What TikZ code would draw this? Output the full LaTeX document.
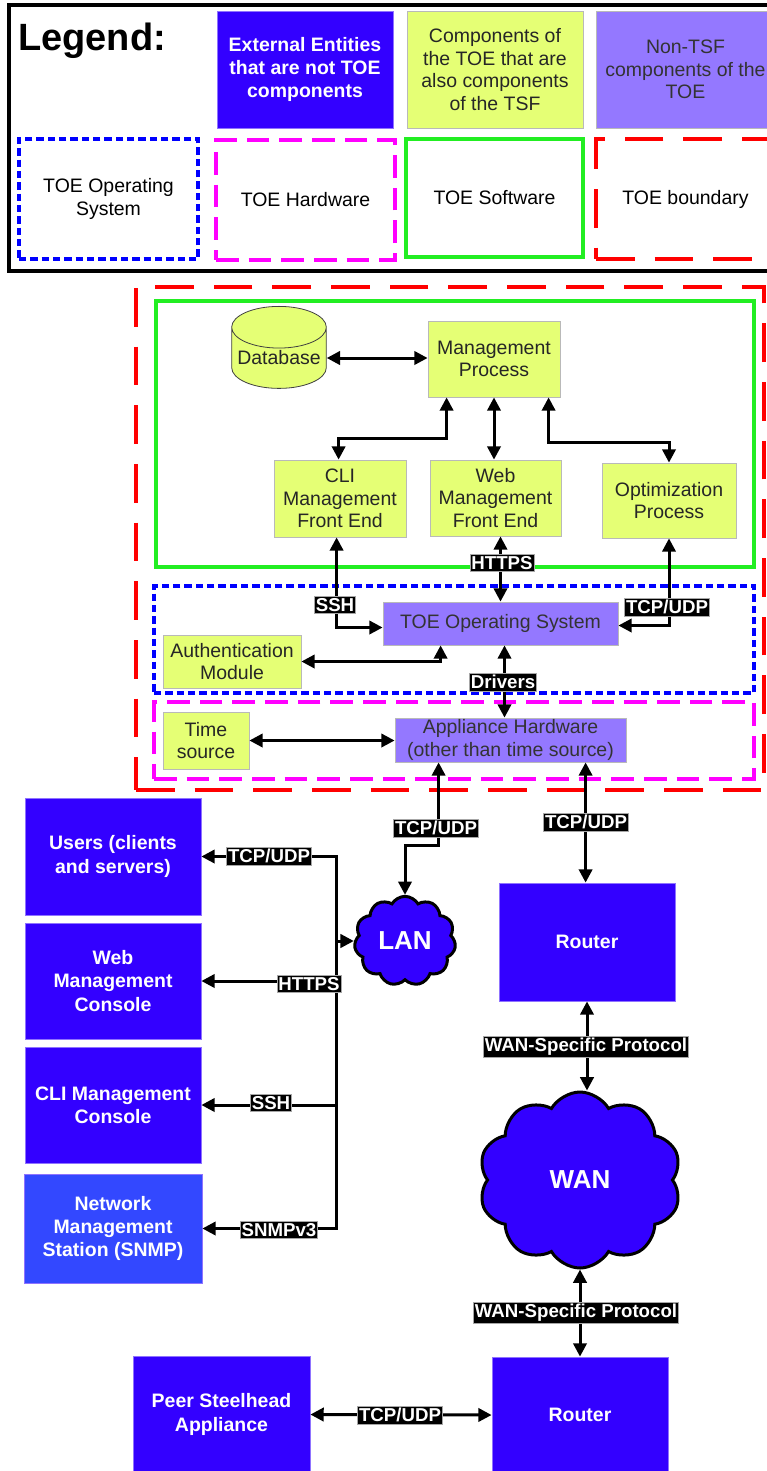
\documentclass[tikz,border=0pt]{standalone}
\usepackage{fontspec}
\setmainfont{Liberation Sans}
\usetikzlibrary{arrows.meta,shapes.geometric,shapes.symbols,calc}
\definecolor{extblue}{HTML}{3300FF}
\definecolor{nmsblue}{HTML}{3348FF}
\definecolor{tsfyel}{HTML}{E5FF75}
\definecolor{nonpur}{HTML}{9478FF}
\definecolor{hwmag}{HTML}{FF00FF}
\definecolor{swgreen}{HTML}{22EE22}
\definecolor{osblue}{HTML}{0000FF}
\definecolor{bdred}{HTML}{FF0000}
\begin{document}
\begin{tikzpicture}[x=0.75pt,y=-0.75pt,
  sz/.style 2 args={minimum width=#1*0.75pt, minimum height=#2*0.75pt},
  box/.style={rectangle, inner sep=0pt, align=center, font=\fontsize{14.6}{17}\selectfont, draw=gray!55, line width=0.6pt},
  yel/.style={box, fill=tsfyel, text=black!85},
  pur/.style={box, fill=nonpur, text=black!80},
  ext/.style={box, fill=extblue, text=white, draw=extblue!55!white, font=\fontsize{14.6}{17.5}\selectfont\bfseries},
  nms/.style={ext, fill=nmsblue},
  lbl/.style={rectangle, fill=black, draw=gray!70, line width=0.5pt, text=white, font=\fontsize{14}{15}\selectfont\bfseries, inner xsep=1pt, inner ysep=1.5pt},
  link/.style={line width=2.25pt, draw=black},
  biarrow/.style={link, {Triangle[length=10pt,width=10pt]}-{Triangle[length=10pt,width=10pt]}},
  toarrow/.style={link, -{Triangle[length=10pt,width=10pt]}},
  frm/.style={rectangle, inner sep=0pt, align=center, font=\fontsize{14.6}{17.5}\selectfont},
  osframe/.style={frm, draw=osblue, line width=2.6pt, dash pattern=on 5.5pt off 3pt},
  hwframe/.style={frm, draw=hwmag, line width=2.8pt, dash pattern=on 17pt off 7.5pt},
  swframe/.style={frm, draw=swgreen, line width=2.8pt},
  bdframe/.style={frm, draw=bdred, line width=3pt, dash pattern=on 29pt off 15pt},
  cloudn/.style={cloud, cloud ignores aspect, fill=extblue, draw=black, line width=2.25pt, text=white, inner sep=0pt, font=\fontsize{19.5}{20}\selectfont\bfseries}
]
\useasboundingbox (0,0) rectangle (767,1471);
\clip (0,0) rectangle (767,1471);

% ---------------- Legend ----------------
\node[rectangle, draw=black, line width=3pt, inner sep=0pt, sz={781}{266}] (legendframe) at (399.5,138) {};
\node[anchor=base west, inner sep=0pt, font=\fontsize{28.5}{30}\selectfont\bfseries] (legendtitle) at (18,50) {Legend:};
\node[ext, sz={176}{117}] (lgext) at (305,69.5) {External Entities\\that are not TOE\\components};
\node[yel, sz={176}{117}] (lgtsf) at (495,69.5) {Components of\\the TOE that are\\also components\\of the TSF};
\node[pur, sz={179}{117}] (lgnon) at (685.5,69.5) {Non-TSF\\components of the\\TOE};
\node[osframe, sz={179}{120}] (lgos) at (108.5,199) {TOE Operating\\System};
\node[hwframe, sz={179}{120}] (lghw) at (305.5,200) {TOE Hardware};
\node[swframe, sz={177}{118}] (lgsw) at (494.5,198) {TOE Software};
\node[bdframe, sz={179}{120}] (lgbd) at (685.5,199) {TOE boundary};

% ---------------- TOE ----------------
\node[bdframe, sz={628}{503}] (toeb) at (450,538.5) {};
\node[swframe, sz={598}{266}] (swb) at (455,434) {};
\node[osframe, sz={600}{107}] (osb) at (454,639.5) {};
\node[hwframe, sz={600}{77}] (hwb) at (454,740.5) {};

\node[cylinder, shape border rotate=90, aspect=0.5, minimum width=71pt, minimum height=61.5pt,
      fill=tsfyel, draw=gray!50!black, line width=0.6pt, inner sep=0pt, text=black!85,
      font=\fontsize{14.6}{17}\selectfont] (db) at (279,358) {Database};
\node[yel, sz={132}{76}] (mp) at (494,359) {Management\\Process};
\node[yel, sz={132}{77}] (cli) at (340,498.5) {CLI\\Management\\Front End};
\node[yel, sz={131}{76}] (web) at (495.5,498) {Web\\Management\\Front End};
\node[yel, sz={134}{75}] (opt) at (669,500.5) {Optimization\\Process};
\node[pur, sz={235}{43}] (os) at (500.5,623.5) {TOE Operating System};
\node[yel, sz={138}{53}] (auth) at (232,661.5) {Authentication\\Module};
\node[yel, sz={86}{57}] (time) at (206,740.5) {Time\\source};
\node[pur, sz={231}{44}] (ah) at (510.5,740) {Appliance Hardware\\(other than time source)};

% ---------------- External ----------------
\node[ext, sz={176}{117}] (users) at (113,856.5) {Users (clients\\and servers)};
\node[ext, sz={176}{116}] (webc) at (113,981) {Web\\Management\\Console};
\node[ext, sz={176}{116}] (clic) at (113,1105) {CLI Management\\Console};
\node[nms, sz={178}{109}] (nmsst) at (113,1228.5) {Network\\Management\\Station (SNMP)};
\node[cloudn, cloud puffs=11, cloud puff arc=120, minimum width=76pt, minimum height=67pt] (lan) at (405,941) {LAN};
\node[ext, sz={176}{118}] (r1) at (587,942) {Router};
\node[cloudn, cloud puffs=10, cloud puff arc=120, minimum width=152pt, minimum height=132pt] (wan) at (580,1180) {WAN};
\node[ext, sz={176}{116}] (r2) at (580,1415) {Router};
\node[ext, sz={177}{117}] (peer) at (221.5,1414.5) {Peer Steelhead\\Appliance};

% ---------------- Connectors ----------------
\path ($(os.south)+(4,0)$) coordinate (drvtop);
\path ($(ah.south west)+(191,0)$) coordinate (wanout);
\path ($(ah.south west)+(44,0)$) coordinate (lanout);

\draw[biarrow] (db.east) -- (db.east -| mp.west);
\draw[biarrow] ($(mp.south west)+(19,0)$) -- ++(0,41) -| ($(cli.north west)+(65,0)$);
\draw[biarrow] (mp.south) -- (mp.south |- web.north);
\draw[biarrow] ($(mp.south west)+(121,0)$) -- ++(0,45) -| (opt.north);
\draw[biarrow] ($(cli.south west)+(63,0)$) |- ($(os.west)+(0,4)$);
\draw[biarrow] (web.south -| os.north) -- (os.north);
\draw[biarrow] (opt.south) |- ($(os.east)+(0,2)$);
\draw[biarrow] (auth.east) -| ($(os.south west)+(58,0)$);
\draw[biarrow] (drvtop) -- (drvtop |- ah.north);
\draw[biarrow] (time.east) -- (time.east -| ah.west);
\draw[biarrow] (lanout) -- ++(0,83) -| (lan.north);
\draw[biarrow] (wanout) -- (wanout |- r1.north);

\path (users.east) ++(135,0) coordinate (bustop);
\path (nmsst.east) ++(134,0) coordinate (busbot);
\draw[biarrow, line join=miter] (users.east) -- (bustop) -- (busbot) -- (nmsst.east);
\draw[toarrow] (bustop |- webc.east) -- (webc.east);
\draw[toarrow] (bustop |- clic.east) -- (clic.east);
\draw[toarrow] (bustop |- lan.west) -- (lan.west);

\draw[biarrow] (r1.south) -- (r1.south |- wan.north);
\draw[biarrow] (r2.north |- wan.south) -- (r2.north);
\draw[biarrow] (peer.east) -- (r2.west);

% ---------------- Labels ----------------
\node[lbl] (lssh) at (335,605) {SSH};
\node[lbl] (lhttps) at (502,563) {HTTPS};
\node[lbl] (ltcp1) at (667,607) {TCP/UDP};
\node[lbl] (ldrv) at (503,682) {Drivers};
\node[lbl] (ltcp2) at (436,828) {TCP/UDP};
\node[lbl] (ltcp3) at (586,822) {TCP/UDP};
\node[lbl] (ltcp4) at (269,856) {TCP/UDP};
\node[lbl] (lhttps2) at (309,984) {HTTPS};
\node[lbl] (lssh2) at (271,1103) {SSH};
\node[lbl] (lsnmp) at (279,1230) {SNMPv3};
\node[lbl] (lwan1) at (586,1047) {WAN-Specific Protocol};
\node[lbl] (lwan2) at (576,1313) {WAN-Specific Protocol};
\node[lbl] (ltcp5) at (400,1415) {TCP/UDP};
\end{tikzpicture}
\end{document}
